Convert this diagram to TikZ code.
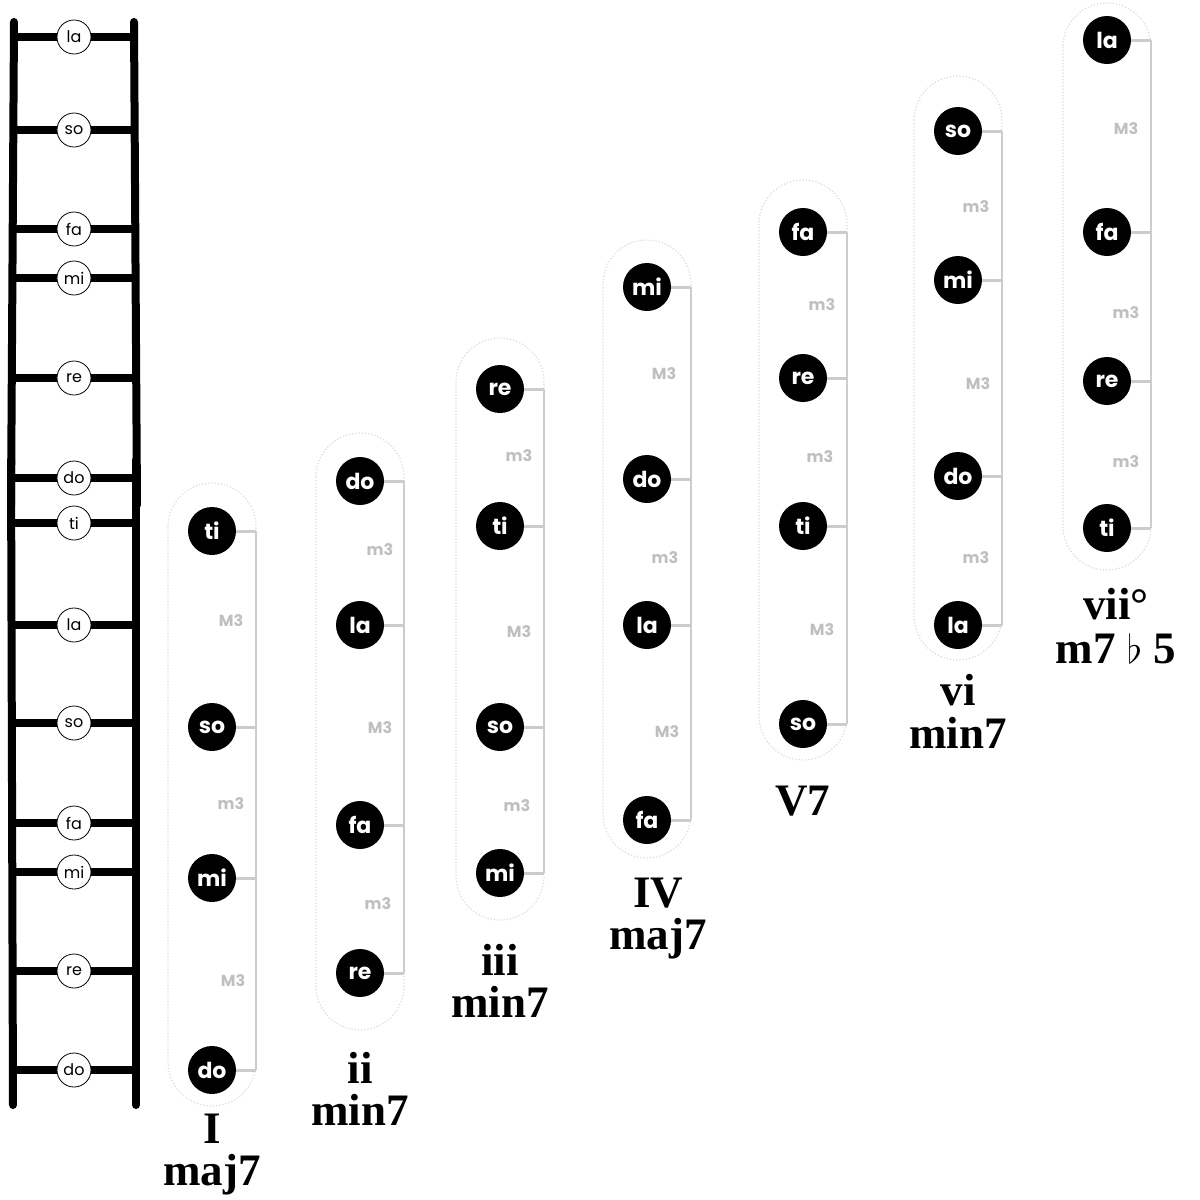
\documentclass[tikz,border=0pt]{standalone}
\usepackage{fontspec}
\setmainfont{Liberation Serif}
\setsansfont{Poppins}
\usepackage{tikz}
\tikzstyle{Rail}=[line width=8pt,line cap=round]
\tikzstyle{Rung}=[line width=8pt]
\tikzstyle{LadderNote}=[circle,draw=black,line width=0.8pt,fill=white,
minimum size=34pt,inner sep=0pt,font=\sffamily\fontsize{16}{16}\selectfont]
\tikzstyle{Note}=[circle,fill=black,text=white,minimum size=48pt,inner sep=0pt,
font=\sffamily\bfseries\fontsize{22}{22}\selectfont]
\tikzstyle{Tick}=[draw=black!20,line width=3pt]
\tikzstyle{Bracket}=[draw=black!20,line width=2pt]
\tikzstyle{Pill}=[draw=black!15,line width=1.2pt,dotted,rounded corners=44pt]
\tikzstyle{Interval}=[text=black!25,font=\sffamily\bfseries\fontsize{16}{16}\selectfont]
\tikzstyle{Title}=[font=\bfseries\fontsize{45}{45}\selectfont,anchor=base,inner sep=0pt]

\begin{document}
\begin{tikzpicture}[x=1pt,y=-1pt]
            \useasboundingbox(0,0)rectangle(1200,1200);
            % ladder
            \draw[Rail](14,22)--(11,505);
            \draw[Rail](134,22)--(137,505);
            \draw[Rail](11,460)--(13,1105);
            \draw[Rail](136,460)--(136,1105);
            \coordinate(L1)at(14,37);\coordinate(R1)at(134,37);
            \coordinate(L2)at(14,130);\coordinate(R2)at(134,130);
            \coordinate(L3)at(13,229);\coordinate(R3)at(135,229);
            \coordinate(L4)at(13,278);\coordinate(R4)at(135,278);
            \coordinate(L5)at(12,378);\coordinate(R5)at(136,378);
            \coordinate(L6)at(12,478);\coordinate(R6)at(136,478);
            \coordinate(L7)at(12,523);\coordinate(R7)at(136,523);
            \coordinate(L8)at(12,625);\coordinate(R8)at(136,625);
            \coordinate(L9)at(12,723);\coordinate(R9)at(136,723);
            \coordinate(L10)at(12,823);\coordinate(R10)at(136,823);
            \coordinate(L11)at(13,872);\coordinate(R11)at(136,872);
            \coordinate(L12)at(13,971);\coordinate(R12)at(136,971);
            \coordinate(L13)at(13,1070);\coordinate(R13)at(136,1070);
            \draw[Rung](L1)--(R1);
            \draw[Rung](L2)--(R2);
            \draw[Rung](L3)--(R3);
            \draw[Rung](L4)--(R4);
            \draw[Rung](L5)--(R5);
            \draw[Rung](L6)--(R6);
            \draw[Rung](L7)--(R7);
            \draw[Rung](L8)--(R8);
            \draw[Rung](L9)--(R9);
            \draw[Rung](L10)--(R10);
            \draw[Rung](L11)--(R11);
            \draw[Rung](L12)--(R12);
            \draw[Rung](L13)--(R13);
            \node[LadderNote](s1)at(74,37){la};
            \node[LadderNote](s2)at(74,130){so};
            \node[LadderNote](s3)at(74,229){fa};
            \node[LadderNote](s4)at(74,278){mi};
            \node[LadderNote](s5)at(74,378){re};
            \node[LadderNote](s6)at(74,478){do};
            \node[LadderNote](s7)at(74,523){ti};
            \node[LadderNote](s8)at(74,625){la};
            \node[LadderNote](s9)at(74,723){so};
            \node[LadderNote](s10)at(74,823){fa};
            \node[LadderNote](s11)at(74,872){mi};
            \node[LadderNote](s12)at(74,971){re};
            \node[LadderNote](s13)at(74,1070){do};
            % I maj7
            \draw[Pill](168,483)rectangle(256,1106);
            \coordinate(I1)at(256,531);\coordinate(I4)at(256,1070);
            \coordinate(I2)at(256,727);\coordinate(I3)at(256,878);
            \draw[Bracket](I1)--(I4);
            \node[Note](I-ti)at(212,531){ti};
            \node[Note](I-so)at(212,727){so};
            \node[Note](I-mi)at(212,878){mi};
            \node[Note](I-do)at(212,1070){do};
            \draw[Tick](I-ti)--(I1);
            \draw[Tick](I-so)--(I2);
            \draw[Tick](I-mi)--(I3);
            \draw[Tick](I-do)--(I4);
            \node[Interval](I-a)at(231,621){M3};
            \node[Interval](I-b)at(231,804){m3};
            \node[Interval](I-c)at(233,981){M3};
            \node[Title](I-t)at(212,1143){I};
            \node[Title](I-q)at(212,1185){maj7};
            % ii min7
            \draw[Pill](316,433)rectangle(404,1030);
            \coordinate(ii1)at(404,481);\coordinate(ii4)at(404,973);
            \coordinate(ii2)at(404,625);\coordinate(ii3)at(404,825);
            \draw[Bracket](ii1)--(ii4);
            \node[Note](ii-do)at(360,481){do};
            \node[Note](ii-la)at(360,625){la};
            \node[Note](ii-fa)at(360,825){fa};
            \node[Note](ii-re)at(360,973){re};
            \draw[Tick](ii-do)--(ii1);
            \draw[Tick](ii-la)--(ii2);
            \draw[Tick](ii-fa)--(ii3);
            \draw[Tick](ii-re)--(ii4);
            \node[Interval](ii-a)at(380,550){m3};
            \node[Interval](ii-b)at(380,728){M3};
            \node[Interval](ii-c)at(378,904){m3};
            \node[Title](ii-t)at(360,1083){ii};
            \node[Title](ii-q)at(360,1125){min7};
            % iii min7
            \draw[Pill](456,338)rectangle(544,920);
            \coordinate(iii1)at(544,389);\coordinate(iii4)at(544,873);
            \coordinate(iii2)at(544,526);\coordinate(iii3)at(544,727);
            \draw[Bracket](iii1)--(iii4);
            \node[Note](iii-re)at(500,389){re};
            \node[Note](iii-ti)at(500,526){ti};
            \node[Note](iii-so)at(500,727){so};
            \node[Note](iii-mi)at(500,873){mi};
            \draw[Tick](iii-re)--(iii1);
            \draw[Tick](iii-ti)--(iii2);
            \draw[Tick](iii-so)--(iii3);
            \draw[Tick](iii-mi)--(iii4);
            \node[Interval](iii-a)at(519,456){m3};
            \node[Interval](iii-b)at(519,632){M3};
            \node[Interval](iii-c)at(517,806){m3};
            \node[Title](iii-t)at(500,975){iii};
            \node[Title](iii-q)at(500,1017){min7};
            % IV maj7
            \draw[Pill](603,240)rectangle(691,858);
            \coordinate(IV1)at(691,287);\coordinate(IV4)at(691,820);
            \coordinate(IV2)at(691,479);\coordinate(IV3)at(691,625);
            \draw[Bracket](IV1)--(IV4);
            \node[Note](IV-mi)at(647,287){mi};
            \node[Note](IV-do)at(647,479){do};
            \node[Note](IV-la)at(647,625){la};
            \node[Note](IV-fa)at(647,820){fa};
            \draw[Tick](IV-mi)--(IV1);
            \draw[Tick](IV-do)--(IV2);
            \draw[Tick](IV-la)--(IV3);
            \draw[Tick](IV-fa)--(IV4);
            \node[Interval](IV-a)at(664,374){M3};
            \node[Interval](IV-b)at(665,558){m3};
            \node[Interval](IV-c)at(667,732){M3};
            \node[Title](IV-t)at(658,907){IV};
            \node[Title](IV-q)at(658,949){maj7};
            % V7
            \draw[Pill](759,180)rectangle(847,760);
            \coordinate(V1)at(847,232);\coordinate(V4)at(847,724);
            \coordinate(V2)at(847,378);\coordinate(V3)at(847,526);
            \draw[Bracket](V1)--(V4);
            \node[Note](V-fa)at(803,232){fa};
            \node[Note](V-re)at(803,378){re};
            \node[Note](V-ti)at(803,526){ti};
            \node[Note](V-so)at(803,724){so};
            \draw[Tick](V-fa)--(V1);
            \draw[Tick](V-re)--(V2);
            \draw[Tick](V-ti)--(V3);
            \draw[Tick](V-so)--(V4);
            \node[Interval](V-a)at(822,305){m3};
            \node[Interval](V-b)at(820,457){m3};
            \node[Interval](V-c)at(822,630){M3};
            \node[Title](V-t)at(803,815){V7};
            % vi min7
            \draw[Pill](914,76)rectangle(1002,660);
            \coordinate(vi1)at(1002,131);\coordinate(vi4)at(1002,625);
            \coordinate(vi2)at(1002,280);\coordinate(vi3)at(1002,476);
            \draw[Bracket](vi1)--(vi4);
            \node[Note](vi-so)at(958,131){so};
            \node[Note](vi-mi)at(958,280){mi};
            \node[Note](vi-do)at(958,476){do};
            \node[Note](vi-la)at(958,625){la};
            \draw[Tick](vi-so)--(vi1);
            \draw[Tick](vi-mi)--(vi2);
            \draw[Tick](vi-do)--(vi3);
            \draw[Tick](vi-la)--(vi4);
            \node[Interval](vi-a)at(976,207){m3};
            \node[Interval](vi-b)at(978,384){M3};
            \node[Interval](vi-c)at(976,558){m3};
            \node[Title](vi-t)at(958,705){vi};
            \node[Title](vi-q)at(958,748){min7};
            % vii dim
            \draw[Pill](1063,3)rectangle(1151,570);
            \coordinate(vii1)at(1151,40);\coordinate(vii4)at(1151,528);
            \coordinate(vii2)at(1151,232);\coordinate(vii3)at(1151,381);
            \draw[Bracket](vii1)--(vii4);
            \node[Note](vii-la)at(1107,40){la};
            \node[Note](vii-fa)at(1107,232){fa};
            \node[Note](vii-re)at(1107,381){re};
            \node[Note](vii-ti)at(1107,528){ti};
            \draw[Tick](vii-la)--(vii1);
            \draw[Tick](vii-fa)--(vii2);
            \draw[Tick](vii-re)--(vii3);
            \draw[Tick](vii-ti)--(vii4);
            \node[Interval](vii-a)at(1126,129){M3};
            \node[Interval](vii-b)at(1126,313){m3};
            \node[Interval](vii-c)at(1126,462){m3};
            \node[Title](vii-t)at(1116,619){vii°};
            \node[Title](vii-q)at(1116,663){m7 \scalebox{1.6}{\begin{math}\flat\end{math}} 5};
        \end{tikzpicture}
\end{document}
